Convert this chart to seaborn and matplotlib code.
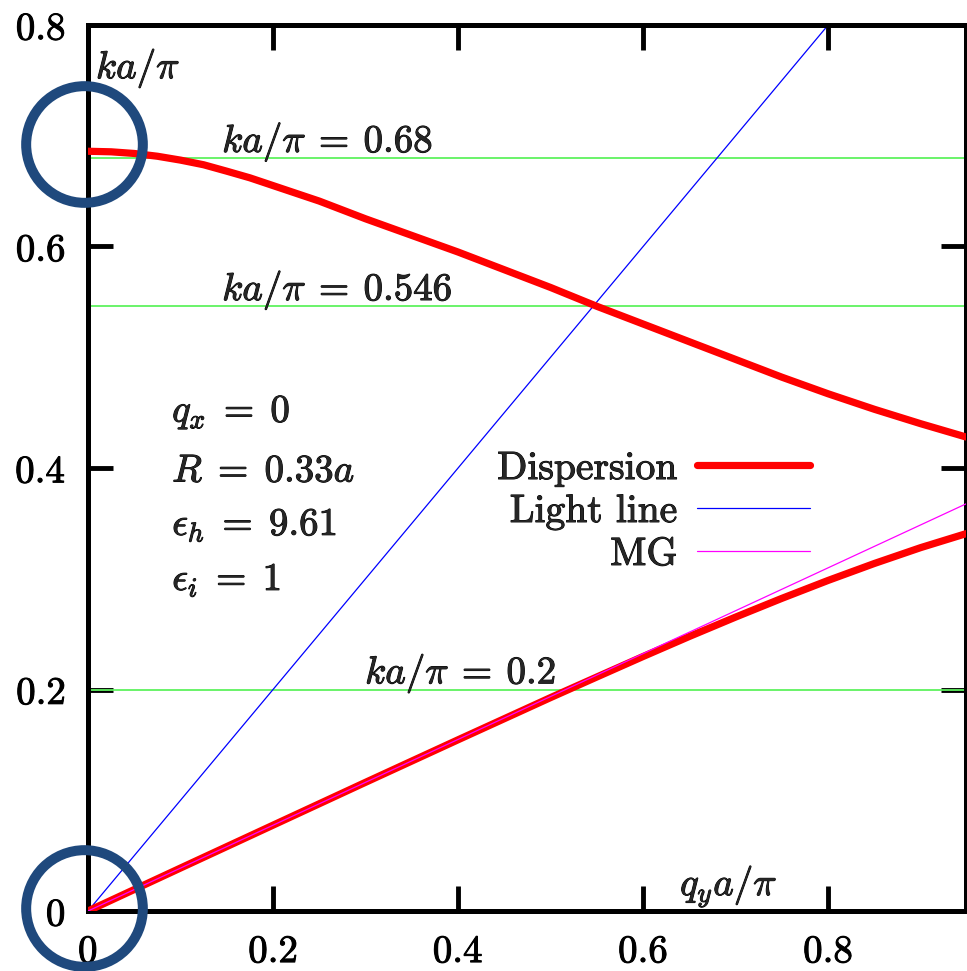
import numpy as np
import pandas as pd
import matplotlib
matplotlib.use("Agg")
import matplotlib.pyplot as plt
import matplotlib.patheffects as pe
import seaborn as sns
from matplotlib.lines import Line2D

# ---- data ----
qx_upper = [0.0, 0.025, 0.05, 0.075, 0.1, 0.125, 0.15, 0.175, 0.2, 0.25, 0.3, 0.35,
            0.4, 0.45, 0.5, 0.55, 0.6, 0.65, 0.7, 0.75, 0.8, 0.85, 0.9, 0.949]
k_upper = [0.686, 0.6855, 0.684, 0.6815, 0.678, 0.6738, 0.668, 0.662, 0.655, 0.641,
           0.625, 0.610, 0.595, 0.579, 0.563, 0.546, 0.530, 0.514, 0.498, 0.482,
           0.467, 0.453, 0.440, 0.428]
qx_lower = [0.0, 0.1, 0.2, 0.3, 0.4, 0.5, 0.55, 0.6, 0.65, 0.7, 0.75, 0.8, 0.85, 0.9, 0.949]
k_lower = [0.0, 0.0388, 0.0775, 0.1162, 0.1546, 0.1927, 0.2113, 0.2298, 0.2479,
           0.2654, 0.2823, 0.2985, 0.3138, 0.3281, 0.3407]
light_x = [0.0, 0.8]
light_y = [0.0, 0.8]
mg_x = [0.0, 0.949]
mg_y = [0.0, 0.3676]
ref_levels = [0.68, 0.546, 0.2]
ref_labels = [r"$ka/\pi\:=\:0.68$", r"$ka/\pi\:=\:0.546$", r"$ka/\pi\:=\:0.2$"]
param_labels = [r"$q_x\;=\;0$", r"$R\;=\;0.33a$", r"$\epsilon_h\;=\;9.61$", r"$\epsilon_i\;=\;1$"]
legend_labels = ["Dispersion", "Light line", "MG"]
xticks = [0.0, 0.2, 0.4, 0.6, 0.8]
xtick_labels = ["0", "0.2", "0.4", "0.6", "0.8"]
yticks = [0.0, 0.2, 0.4, 0.6, 0.8]
ytick_labels = ["0", "0.2", "0.4", "0.6", "0.8"]
highlight_x = [-0.004, -0.004]
highlight_y = [0.693, 0.0027]

sns.set_style("ticks")
plt.rcParams["mathtext.fontset"] = "cm"
plt.rcParams["font.family"] = ["DejaVu Serif"]
plt.rcParams["axes.unicode_minus"] = False

fig = plt.figure(figsize=(9.67, 9.71), dpi=100)
ax = fig.add_axes([88 / 967, 60 / 971, 878 / 967, 886 / 971])

FS = 28
GREEN = "#5ef25e"
heavy = [pe.withStroke(linewidth=0.7, foreground="black")]

for lvl in ref_levels:
    ax.axhline(lvl, color=GREEN, lw=1.3, zorder=1)

df_up = pd.DataFrame({"q": qx_upper, "k": k_upper})
df_lo = pd.DataFrame({"q": qx_lower, "k": k_lower})
df_light = pd.DataFrame({"q": light_x, "k": light_y})
df_mg = pd.DataFrame({"q": mg_x, "k": mg_y})

sns.lineplot(data=df_light, x="q", y="k", color="#0000ff", lw=0.9, ax=ax, zorder=2)
sns.lineplot(data=df_up, x="q", y="k", color="#ff0000", lw=5.2, ax=ax, zorder=3)
sns.lineplot(data=df_lo, x="q", y="k", color="#ff0000", lw=5.2, ax=ax, zorder=3)
sns.lineplot(data=df_mg, x="q", y="k", color="#ff00ff", lw=0.9, ax=ax, zorder=4)

ax.set_xlim(0, 0.949)
ax.set_ylim(0, 0.8)
ax.set_xlabel("")
ax.set_ylabel("")

ax.set_xticks(xticks, labels=[f"${t}$" for t in xtick_labels])
ax.set_yticks(yticks, labels=[f"${t}$" for t in ytick_labels])
ax.tick_params(axis="both", direction="in", length=18, width=3.5, labelsize=FS,
               top=True, right=True, colors="black")
ax.tick_params(axis="x", pad=16)
ax.tick_params(axis="y", pad=16)
for lab in ax.get_xticklabels() + ax.get_yticklabels():
    lab.set_path_effects(heavy)
for s in ax.spines.values():
    s.set_linewidth(3.6)
    s.set_color("black")
    s.set_visible(True)

# text annotations
ax.text(0.0086, 0.752, r"$ka/\pi$", fontsize=FS, ha="left", va="baseline", path_effects=heavy)
ax.text(0.64, 0.0144, r"$q_ya/\pi$", fontsize=FS, ha="left", va="baseline", path_effects=heavy)
ref_pos = [(0.145, 0.6855), (0.145, 0.5517), (0.2995, 0.2056)]
for (x, y), lab in zip(ref_pos, ref_labels):
    ax.text(x, y, lab, fontsize=FS, ha="left", va="baseline", path_effects=heavy)
param_y = [0.4418, 0.3876, 0.3395, 0.2898]
for y, lab in zip(param_y, param_labels):
    ax.text(0.091, y, lab, fontsize=FS, ha="left", va="baseline", path_effects=heavy)

handles = [Line2D([], [], color="#ff0000", lw=5.2),
           Line2D([], [], color="#0000ff", lw=0.9),
           Line2D([], [], color="#ff00ff", lw=0.9)]
leg = ax.legend(handles, legend_labels, loc="upper right", bbox_to_anchor=(0.8225, 0.519),
                frameon=False, markerfirst=False, prop={"family": "cmr10", "size": 28.5},
                handlelength=2.85, handletextpad=0.5, labelspacing=0.18,
                borderpad=0, borderaxespad=0)
for t in leg.get_texts():
    t.set_path_effects(heavy)

# highlight circles (overlay annotations)
ax.plot(highlight_x, highlight_y, linestyle="none", marker="o", markersize=84,
        markerfacecolor="none", markeredgecolor="#1f497d", markeredgewidth=7.2,
        clip_on=False, zorder=10)

fig.savefig("out.png", dpi=100)
